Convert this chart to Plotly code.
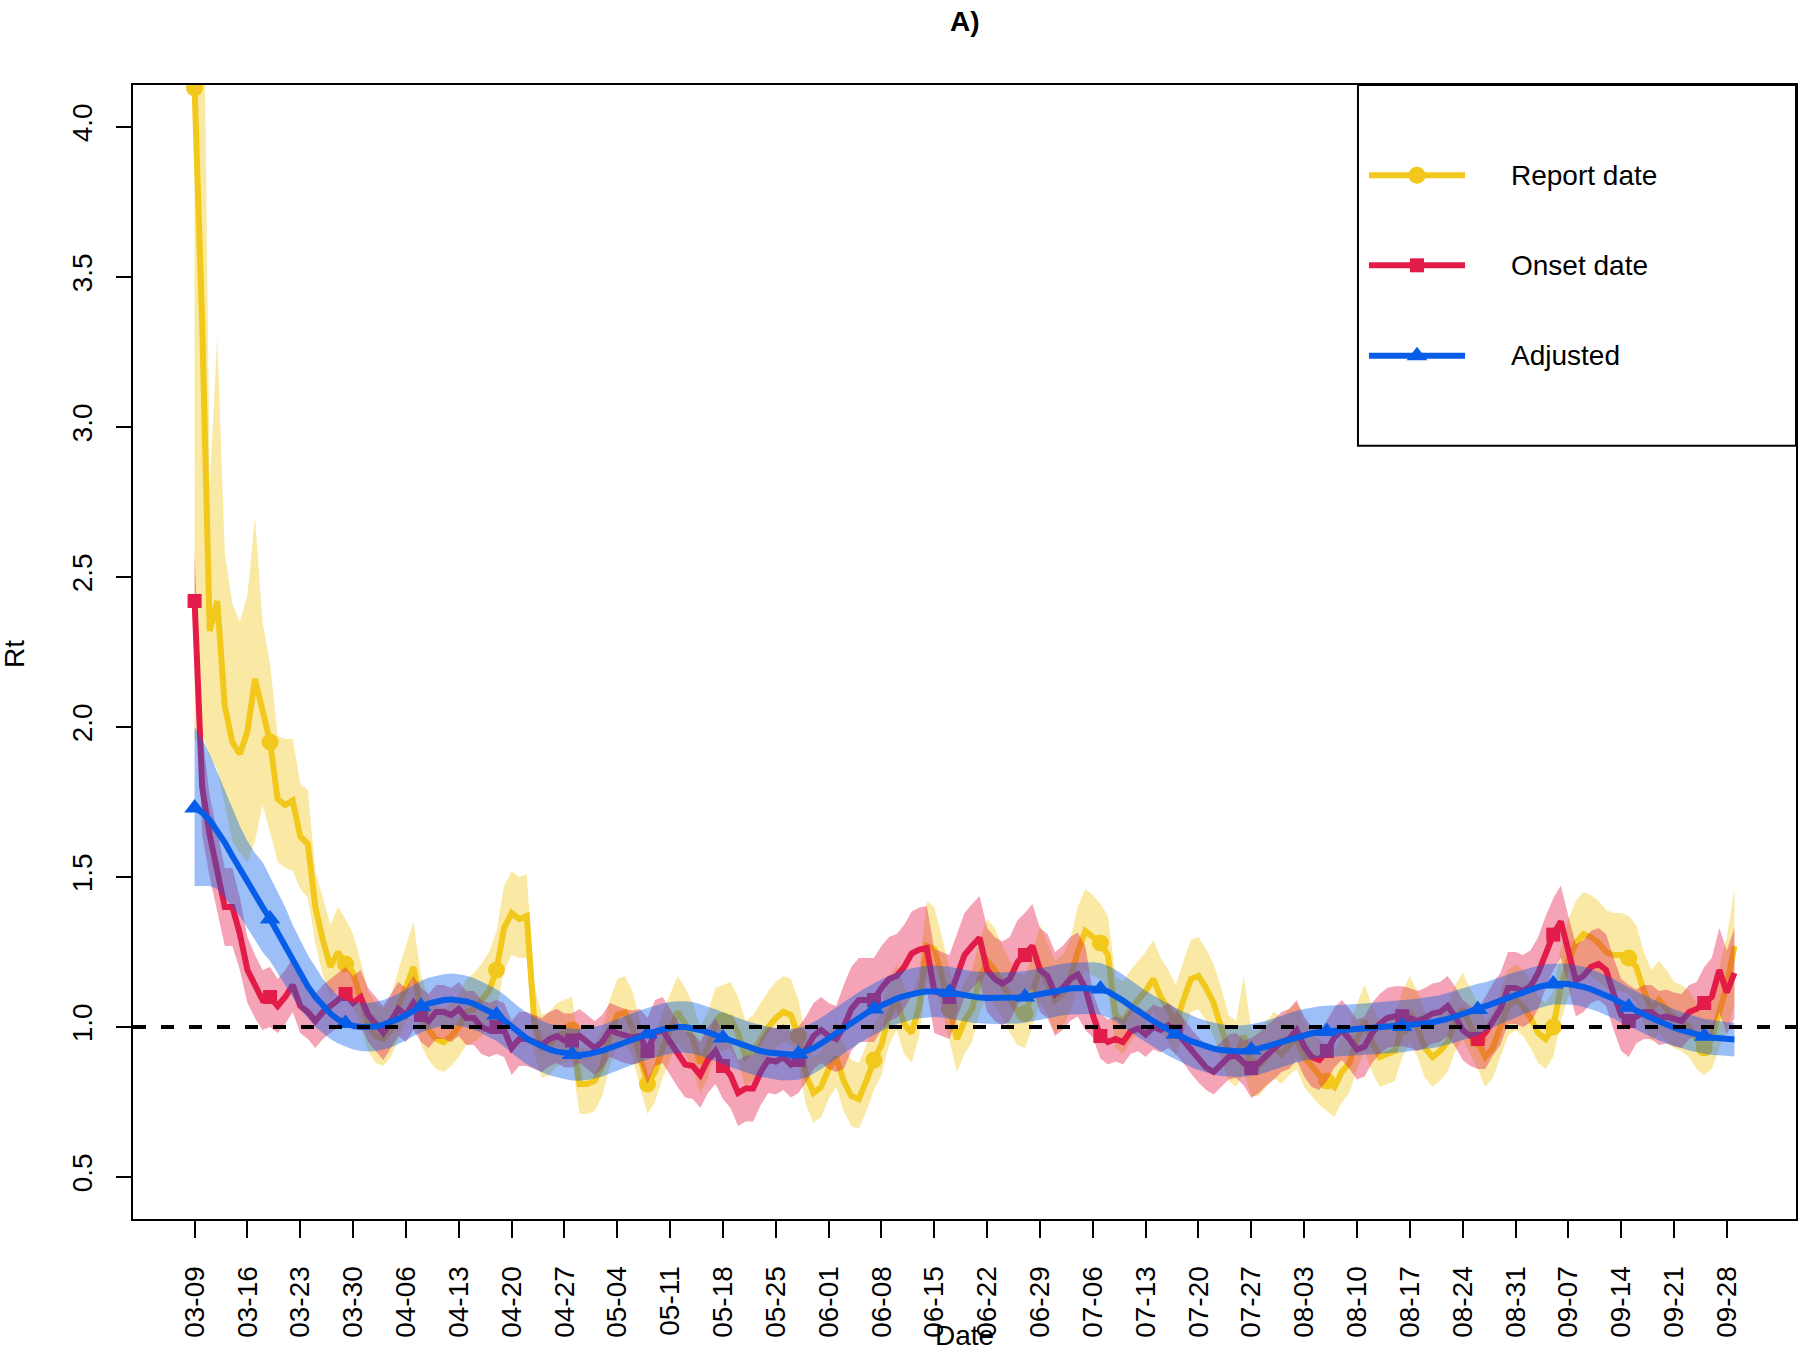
import pandas as pd
import plotly.graph_objects as go

# ---------------- data ----------------
start_date = "2020-03-09"
n_days = 205
dates = pd.date_range(start_date, periods=n_days, freq="D")

report = [4.13, 3.35, 2.32, 2.42, 2.07, 1.95, 1.91, 1.985, 2.16, 2.06,
          1.95, 1.76, 1.74, 1.755, 1.635, 1.61, 1.40, 1.29, 1.20, 1.25,
          1.21, 1.18, 1.10, 1.01, 0.97, 0.96, 0.99, 1.07, 1.13, 1.20,
          1.05, 0.99, 0.96, 0.95, 0.97, 1.00, 1.05, 1.06, 1.09, 1.12,
          1.19, 1.33, 1.38, 1.36, 1.37, 1.02, 0.93, 0.94, 0.97, 0.98,
          0.99, 0.81, 0.81, 0.82, 0.87, 0.97, 1.04, 1.05, 1.00, 0.90,
          0.81, 0.85, 0.93, 0.99, 1.05, 1.01, 0.96, 0.88, 0.93, 1.01,
          1.02, 1.03, 0.98, 0.90, 0.92, 0.96, 1.00, 1.03, 1.05, 1.04,
          0.97, 0.84, 0.78, 0.80, 0.86, 0.90, 0.82, 0.77, 0.76, 0.82,
          0.89, 0.94, 1.04, 1.09, 1.01, 0.98, 1.07, 1.27, 1.26, 1.17,
          1.06, 0.96, 1.02, 1.06, 1.16, 1.22, 1.19, 1.14, 1.09, 1.05,
          1.045, 1.11, 1.20, 1.15, 1.09, 1.11, 1.16, 1.25, 1.32, 1.30,
          1.28, 1.24, 1.04, 1.02, 1.06, 1.09, 1.12, 1.16, 1.10, 1.06,
          1.01, 1.09, 1.16, 1.17, 1.13, 1.08, 1.00, 0.92, 0.90, 0.97,
          0.87, 0.87, 0.90, 0.93, 0.91, 0.94, 0.96, 0.90, 0.87, 0.84,
          0.82, 0.80, 0.85, 0.88, 0.96, 1.02, 0.95, 0.90, 0.91, 0.92,
          1.00, 1.05, 1.00, 0.93, 0.90, 0.92, 0.95, 1.02, 1.06, 1.01,
          0.96, 0.90, 0.93, 1.00, 1.07, 1.09, 1.07, 1.03, 0.98, 0.96,
          1.00, 1.13, 1.22, 1.28, 1.31, 1.30, 1.28, 1.25, 1.24, 1.24,
          1.23, 1.20, 1.12, 1.06, 1.09, 1.06, 1.03, 1.02, 1.00, 0.96,
          0.93, 0.96, 1.05, 1.14, 1.27]

report_lo = [1.95, 1.98, 1.90, 1.86, 1.74, 1.62, 1.58, 1.55, 1.62, 1.74,
             1.65, 1.55, 1.53, 1.52, 1.46, 1.43, 1.28, 1.17, 1.10, 1.13,
             1.10, 1.07, 1.00, 0.92, 0.88, 0.87, 0.90, 0.96, 1.02, 1.07,
             0.94, 0.89, 0.86, 0.85, 0.87, 0.90, 0.94, 0.95, 0.97, 1.00,
             1.06, 1.19, 1.24, 1.23, 1.23, 0.91, 0.83, 0.84, 0.87, 0.88,
             0.89, 0.71, 0.71, 0.72, 0.77, 0.87, 0.94, 0.95, 0.90, 0.80,
             0.71, 0.75, 0.83, 0.89, 0.95, 0.91, 0.86, 0.78, 0.83, 0.91,
             0.92, 0.93, 0.88, 0.80, 0.82, 0.86, 0.90, 0.93, 0.95, 0.94,
             0.87, 0.74, 0.68, 0.70, 0.76, 0.80, 0.72, 0.67, 0.66, 0.72,
             0.79, 0.84, 0.94, 0.99, 0.91, 0.88, 0.97, 1.15, 1.14, 1.06,
             0.95, 0.85, 0.91, 0.95, 1.05, 1.10, 1.07, 1.03, 0.98, 0.94,
             0.93, 1.00, 1.08, 1.04, 0.98, 1.00, 1.05, 1.13, 1.19, 1.17,
             1.16, 1.12, 0.93, 0.91, 0.95, 0.98, 1.01, 1.05, 0.99, 0.95,
             0.90, 0.98, 1.05, 1.06, 1.02, 0.97, 0.89, 0.82, 0.80, 0.85,
             0.77, 0.77, 0.80, 0.83, 0.81, 0.84, 0.86, 0.80, 0.77, 0.74,
             0.72, 0.70, 0.75, 0.78, 0.86, 0.92, 0.85, 0.80, 0.81, 0.82,
             0.90, 0.95, 0.90, 0.83, 0.80, 0.82, 0.85, 0.92, 0.96, 0.91,
             0.86, 0.80, 0.83, 0.90, 0.97, 0.99, 0.97, 0.93, 0.88, 0.86,
             0.90, 1.02, 1.10, 1.15, 1.18, 1.17, 1.15, 1.13, 1.12, 1.12,
             1.11, 1.08, 1.01, 0.95, 0.98, 0.95, 0.93, 0.92, 0.90, 0.86,
             0.84, 0.86, 0.93, 0.99, 1.07]

report_hi = [6.00, 5.00, 2.80, 3.30, 2.58, 2.41, 2.35, 2.44, 2.70, 2.35,
             2.21, 1.97, 1.96, 1.96, 1.81, 1.79, 1.52, 1.43, 1.34, 1.40,
             1.36, 1.31, 1.22, 1.12, 1.08, 1.06, 1.10, 1.19, 1.27, 1.35,
             1.17, 1.10, 1.07, 1.06, 1.08, 1.11, 1.16, 1.18, 1.21, 1.25,
             1.32, 1.47, 1.52, 1.50, 1.51, 1.14, 1.04, 1.05, 1.08, 1.09,
             1.10, 0.93, 0.93, 0.94, 0.99, 1.09, 1.16, 1.17, 1.12, 1.02,
             0.93, 0.97, 1.05, 1.11, 1.17, 1.13, 1.08, 1.00, 1.05, 1.13,
             1.14, 1.15, 1.10, 1.02, 1.04, 1.08, 1.12, 1.15, 1.17, 1.16,
             1.09, 0.96, 0.90, 0.92, 0.98, 1.02, 0.94, 0.89, 0.88, 0.94,
             1.01, 1.06, 1.16, 1.21, 1.13, 1.10, 1.19, 1.42, 1.40, 1.30,
             1.19, 1.09, 1.15, 1.19, 1.29, 1.36, 1.33, 1.27, 1.22, 1.18,
             1.17, 1.24, 1.34, 1.28, 1.22, 1.24, 1.29, 1.40, 1.46, 1.44,
             1.41, 1.37, 1.17, 1.15, 1.19, 1.22, 1.25, 1.29, 1.23, 1.19,
             1.14, 1.22, 1.29, 1.30, 1.26, 1.21, 1.13, 1.04, 1.02, 1.17,
             0.99, 0.99, 1.02, 1.05, 1.03, 1.06, 1.08, 1.02, 0.99, 0.96,
             0.94, 0.92, 0.97, 1.00, 1.08, 1.14, 1.07, 1.02, 1.03, 1.04,
             1.12, 1.17, 1.12, 1.05, 1.02, 1.04, 1.07, 1.14, 1.18, 1.13,
             1.08, 1.02, 1.05, 1.12, 1.19, 1.21, 1.19, 1.15, 1.10, 1.08,
             1.12, 1.26, 1.36, 1.42, 1.45, 1.44, 1.42, 1.39, 1.38, 1.38,
             1.37, 1.34, 1.25, 1.19, 1.22, 1.19, 1.15, 1.14, 1.12, 1.08,
             1.05, 1.08, 1.20, 1.30, 1.46]

onset = [2.42, 1.80, 1.64, 1.52, 1.40, 1.40, 1.31, 1.19, 1.136, 1.09,
         1.10, 1.07, 1.10, 1.14, 1.07, 1.05, 1.02, 1.05, 1.07, 1.09,
         1.11, 1.08, 1.10, 1.04, 1.01, 0.98, 1.02, 1.06, 1.04, 1.08,
         1.04, 1.02, 1.05, 1.05, 1.04, 1.06, 1.03, 1.03, 1.00, 0.99,
         1.00, 0.99, 0.93, 0.96, 0.96, 0.95, 0.94, 0.96, 0.97, 0.955,
         0.955, 0.97, 0.95, 0.93, 0.95, 0.99, 0.98, 0.97, 0.965, 0.97,
         0.92, 0.98, 0.99, 0.95, 0.91, 0.875, 0.87, 0.84, 0.89, 0.92,
         0.87, 0.84, 0.78, 0.795, 0.795, 0.85, 0.89, 0.885, 0.90, 0.875,
         0.89, 0.925, 0.97, 0.99, 0.97, 0.96, 1.00, 1.06, 1.09, 1.09,
         1.09, 1.13, 1.16, 1.17, 1.20, 1.245, 1.258, 1.263, 1.12, 1.11,
         1.10, 1.17, 1.24, 1.27, 1.297, 1.19, 1.16, 1.145, 1.16, 1.215,
         1.24, 1.27, 1.19, 1.17, 1.11, 1.13, 1.16, 1.175, 1.13, 1.04,
         0.97, 0.95, 0.96, 0.95, 0.985, 0.995, 0.975, 1.00, 0.99, 1.005,
         0.985, 0.955, 0.92, 0.89, 0.865, 0.85, 0.875, 0.90, 0.905, 0.88,
         0.863, 0.88, 0.905, 0.925, 0.95, 0.96, 0.99, 0.935, 0.90, 0.89,
         0.92, 0.965, 0.99, 0.96, 0.925, 0.935, 0.98, 1.01, 1.03, 1.036,
         1.036, 1.03, 1.02, 1.03, 1.045, 1.05, 1.07, 1.035, 0.99, 0.97,
         0.96, 0.98, 1.025, 1.06, 1.13, 1.13, 1.12, 1.136, 1.18, 1.25,
         1.308, 1.352, 1.25, 1.155, 1.17, 1.20, 1.21, 1.19, 1.11, 1.04,
         1.02, 1.035, 1.05, 1.05, 1.03, 1.035, 1.025, 1.02, 1.05, 1.06,
         1.08, 1.10, 1.19, 1.115, 1.18]

onset_lo = [2.30, 1.64, 1.50, 1.39, 1.27, 1.27, 1.19, 1.08, 1.03, 0.99,
            1.00, 0.98, 1.01, 1.05, 0.98, 0.96, 0.93, 0.96, 0.98, 1.00,
            1.02, 0.99, 1.01, 0.95, 0.92, 0.89, 0.93, 0.97, 0.95, 0.99,
            0.95, 0.93, 0.96, 0.96, 0.95, 0.97, 0.94, 0.94, 0.91, 0.90,
            0.91, 0.90, 0.84, 0.87, 0.87, 0.86, 0.85, 0.87, 0.88, 0.865,
            0.865, 0.88, 0.86, 0.84, 0.86, 0.90, 0.89, 0.88, 0.875, 0.88,
            0.81, 0.87, 0.88, 0.84, 0.80, 0.765, 0.76, 0.73, 0.78, 0.81,
            0.76, 0.73, 0.67, 0.685, 0.685, 0.74, 0.78, 0.775, 0.79, 0.765,
            0.78, 0.815, 0.86, 0.88, 0.86, 0.85, 0.86, 0.92, 0.95, 0.95,
            0.95, 0.99, 1.02, 1.03, 1.06, 1.105, 1.118, 1.123, 0.98, 0.97,
            0.96, 1.03, 1.10, 1.13, 1.157, 1.05, 1.02, 1.005, 1.02, 1.075,
            1.10, 1.13, 1.05, 1.03, 0.97, 0.99, 1.02, 1.035, 0.99, 0.965,
            0.895, 0.875, 0.885, 0.875, 0.91, 0.92, 0.90, 0.925, 0.915, 0.93,
            0.91, 0.88, 0.845, 0.815, 0.79, 0.775, 0.80, 0.825, 0.83, 0.805,
            0.763, 0.78, 0.805, 0.825, 0.85, 0.86, 0.89, 0.835, 0.80, 0.79,
            0.82, 0.865, 0.89, 0.86, 0.825, 0.835, 0.88, 0.91, 0.93, 0.936,
            0.936, 0.93, 0.92, 0.93, 0.945, 0.95, 0.97, 0.935, 0.89, 0.87,
            0.86, 0.86, 0.905, 0.94, 1.01, 1.01, 1.00, 1.016, 1.06, 1.13,
            1.188, 1.232, 1.13, 1.035, 1.05, 1.08, 1.09, 1.07, 0.99, 0.92,
            0.90, 0.945, 0.96, 0.96, 0.94, 0.945, 0.935, 0.93, 0.96, 0.97,
            0.96, 0.97, 1.05, 0.975, 1.03]

onset_hi = [2.58, 1.98, 1.77, 1.65, 1.53, 1.53, 1.43, 1.30, 1.24, 1.19,
            1.20, 1.16, 1.19, 1.23, 1.16, 1.14, 1.11, 1.14, 1.16, 1.18,
            1.20, 1.17, 1.19, 1.13, 1.10, 1.07, 1.11, 1.15, 1.13, 1.17,
            1.13, 1.11, 1.14, 1.14, 1.13, 1.15, 1.12, 1.12, 1.09, 1.08,
            1.09, 1.08, 1.02, 1.05, 1.05, 1.04, 1.03, 1.05, 1.06, 1.045,
            1.045, 1.06, 1.04, 1.02, 1.04, 1.08, 1.07, 1.06, 1.055, 1.06,
            1.03, 1.09, 1.10, 1.06, 1.02, 0.985, 0.98, 0.95, 1.00, 1.03,
            0.98, 0.95, 0.89, 0.905, 0.905, 0.96, 1.00, 0.995, 1.01, 0.985,
            1.00, 1.035, 1.08, 1.10, 1.08, 1.07, 1.14, 1.20, 1.23, 1.23,
            1.23, 1.27, 1.30, 1.31, 1.34, 1.385, 1.398, 1.403, 1.26, 1.25,
            1.24, 1.31, 1.38, 1.41, 1.437, 1.33, 1.30, 1.285, 1.30, 1.355,
            1.38, 1.41, 1.33, 1.31, 1.25, 1.27, 1.30, 1.315, 1.27, 1.115,
            1.045, 1.025, 1.035, 1.025, 1.06, 1.07, 1.05, 1.075, 1.065, 1.08,
            1.06, 1.03, 0.995, 0.965, 0.94, 0.925, 0.95, 0.975, 0.98, 0.955,
            0.963, 0.98, 1.005, 1.025, 1.05, 1.06, 1.09, 1.035, 1.00, 0.99,
            1.02, 1.065, 1.09, 1.06, 1.025, 1.035, 1.08, 1.11, 1.13, 1.136,
            1.136, 1.13, 1.12, 1.13, 1.145, 1.15, 1.17, 1.135, 1.09, 1.07,
            1.06, 1.10, 1.145, 1.18, 1.25, 1.25, 1.24, 1.256, 1.30, 1.37,
            1.428, 1.472, 1.37, 1.275, 1.29, 1.32, 1.33, 1.31, 1.23, 1.16,
            1.14, 1.125, 1.14, 1.14, 1.12, 1.125, 1.115, 1.11, 1.14, 1.15,
            1.20, 1.23, 1.33, 1.255, 1.33]

adjusted = [1.73, 1.715, 1.69, 1.655, 1.615, 1.57, 1.525, 1.48, 1.44, 1.40,
            1.36, 1.315, 1.27, 1.22, 1.175, 1.135, 1.10, 1.07, 1.045, 1.025,
            1.012, 1.004, 1.0, 0.999, 1.002, 1.008, 1.016, 1.027, 1.04, 1.055,
            1.068, 1.078, 1.085, 1.09, 1.092, 1.09, 1.085, 1.077, 1.066, 1.052,
            1.04, 1.022, 1.0, 0.98, 0.962, 0.948, 0.935, 0.925, 0.918, 0.913,
            0.908, 0.907, 0.909, 0.914, 0.921, 0.93, 0.94, 0.95, 0.96, 0.97,
            0.977, 0.985, 0.992, 0.997, 1.0, 1.0, 0.997, 0.99, 0.982, 0.973,
            0.963, 0.953, 0.943, 0.935, 0.927, 0.92, 0.915, 0.911, 0.908, 0.908,
            0.91, 0.918, 0.93, 0.945, 0.962, 0.98, 0.998, 1.015, 1.031, 1.046,
            1.06, 1.073, 1.085, 1.095, 1.103, 1.11, 1.115, 1.118, 1.119, 1.118,
            1.115, 1.11, 1.105, 1.10, 1.098, 1.097, 1.096, 1.096, 1.097, 1.098,
            1.10, 1.105, 1.11, 1.116, 1.12, 1.125, 1.128, 1.13, 1.13, 1.13,
            1.127, 1.118, 1.105, 1.088, 1.07, 1.052, 1.035, 1.02, 1.005, 0.99,
            0.977, 0.965, 0.953, 0.943, 0.935, 0.928, 0.923, 0.92, 0.919, 0.92,
            0.923, 0.928, 0.935, 0.943, 0.952, 0.96, 0.968, 0.974, 0.979, 0.983,
            0.985, 0.987, 0.989, 0.99, 0.991, 0.992, 0.994, 0.996, 0.998, 1.0,
            1.002, 1.005, 1.008, 1.012, 1.016, 1.02, 1.027, 1.035, 1.043, 1.05,
            1.058, 1.068, 1.078, 1.088, 1.098, 1.107, 1.116, 1.125, 1.133, 1.139,
            1.143, 1.144, 1.143, 1.14, 1.134, 1.126, 1.117, 1.106, 1.094, 1.08,
            1.066, 1.054, 1.042, 1.03, 1.018, 1.008, 0.998, 0.99, 0.982, 0.975,
            0.969, 0.965, 0.962, 0.96, 0.958]

adjusted_lo = [1.47, 1.47, 1.47, 1.46, 1.43, 1.40, 1.37, 1.33, 1.29, 1.25,
               1.22, 1.18, 1.14, 1.10, 1.06, 1.03, 1.00, 0.98, 0.96, 0.945,
               0.935, 0.925, 0.92, 0.918, 0.92, 0.925, 0.932, 0.943, 0.955, 0.97,
               0.982, 0.992, 0.999, 1.004, 1.006, 1.004, 0.999, 0.991, 0.98, 0.966,
               0.954, 0.936, 0.914, 0.894, 0.876, 0.862, 0.849, 0.839, 0.832, 0.827,
               0.822, 0.821, 0.823, 0.828, 0.835, 0.844, 0.854, 0.864, 0.874, 0.884,
               0.891, 0.899, 0.906, 0.911, 0.914, 0.914, 0.911, 0.904, 0.896, 0.887,
               0.877, 0.867, 0.857, 0.849, 0.841, 0.834, 0.829, 0.825, 0.822, 0.822,
               0.824, 0.832, 0.844, 0.859, 0.876, 0.894, 0.912, 0.929, 0.945, 0.960,
               0.974, 0.987, 0.999, 1.009, 1.017, 1.024, 1.029, 1.032, 1.033, 1.032,
               1.029, 1.024, 1.019, 1.014, 1.012, 1.011, 1.010, 1.010, 1.011, 1.012,
               1.014, 1.019, 1.024, 1.030, 1.034, 1.039, 1.042, 1.044, 1.044, 1.044,
               1.041, 1.032, 1.019, 1.002, 0.984, 0.966, 0.949, 0.934, 0.919, 0.904,
               0.891, 0.879, 0.867, 0.857, 0.849, 0.842, 0.837, 0.834, 0.833, 0.834,
               0.837, 0.842, 0.849, 0.857, 0.866, 0.874, 0.882, 0.888, 0.893, 0.897,
               0.899, 0.901, 0.903, 0.904, 0.905, 0.906, 0.908, 0.910, 0.912, 0.914,
               0.916, 0.919, 0.922, 0.926, 0.930, 0.934, 0.941, 0.949, 0.957, 0.964,
               0.972, 0.987, 0.998, 1.010, 1.021, 1.031, 1.042, 1.052, 1.062, 1.069,
               1.075, 1.076, 1.075, 1.073, 1.067, 1.059, 1.051, 1.040, 1.028, 1.015,
               1.001, 0.990, 0.978, 0.967, 0.955, 0.946, 0.937, 0.930, 0.922, 0.916,
               0.911, 0.907, 0.905, 0.904, 0.902]

adjusted_hi = [2.00, 1.96, 1.91, 1.85, 1.79, 1.73, 1.67, 1.62, 1.58, 1.55,
               1.50, 1.45, 1.40, 1.34, 1.29, 1.24, 1.20, 1.16, 1.13, 1.105,
               1.09, 1.083, 1.08, 1.08, 1.084, 1.09, 1.10, 1.111, 1.125, 1.14,
               1.154, 1.164, 1.171, 1.176, 1.178, 1.176, 1.171, 1.163, 1.152, 1.138,
               1.126, 1.108, 1.086, 1.066, 1.048, 1.034, 1.021, 1.011, 1.004, 0.999,
               0.994, 0.993, 0.995, 1.000, 1.007, 1.016, 1.026, 1.036, 1.046, 1.056,
               1.063, 1.071, 1.078, 1.083, 1.086, 1.086, 1.083, 1.076, 1.068, 1.059,
               1.049, 1.039, 1.029, 1.021, 1.013, 1.006, 1.001, 0.997, 0.994, 0.994,
               0.996, 1.004, 1.016, 1.031, 1.048, 1.066, 1.084, 1.101, 1.117, 1.132,
               1.146, 1.159, 1.171, 1.181, 1.189, 1.196, 1.201, 1.204, 1.205, 1.204,
               1.201, 1.196, 1.191, 1.186, 1.184, 1.183, 1.182, 1.182, 1.183, 1.184,
               1.186, 1.191, 1.196, 1.202, 1.206, 1.211, 1.214, 1.216, 1.216, 1.216,
               1.213, 1.204, 1.191, 1.174, 1.156, 1.138, 1.121, 1.106, 1.091, 1.076,
               1.063, 1.051, 1.039, 1.029, 1.021, 1.014, 1.009, 1.006, 1.005, 1.006,
               1.009, 1.014, 1.021, 1.029, 1.038, 1.046, 1.054, 1.060, 1.065, 1.069,
               1.071, 1.073, 1.075, 1.076, 1.077, 1.078, 1.080, 1.082, 1.084, 1.086,
               1.088, 1.091, 1.094, 1.098, 1.102, 1.106, 1.113, 1.121, 1.129, 1.136,
               1.144, 1.149, 1.158, 1.166, 1.175, 1.183, 1.190, 1.198, 1.204, 1.209,
               1.211, 1.212, 1.211, 1.207, 1.201, 1.193, 1.183, 1.172, 1.160, 1.145,
               1.131, 1.118, 1.106, 1.093, 1.081, 1.070, 1.059, 1.050, 1.042, 1.034,
               1.027, 1.023, 1.019, 1.016, 1.014]

tick_labels = ["03-09", "03-16", "03-23", "03-30", "04-06", "04-13", "04-20",
               "04-27", "05-04", "05-11", "05-18", "05-25", "06-01", "06-08",
               "06-15", "06-22", "06-29", "07-06", "07-13", "07-20", "07-27",
               "08-03", "08-10", "08-17", "08-24", "08-31", "09-07", "09-14",
               "09-21", "09-28"]
y_ticks = [0.5, 1.0, 1.5, 2.0, 2.5, 3.0, 3.5, 4.0]
y_limits = [0.5, 4.0]
threshold = 1.0
series_names = ["Report date", "Onset date", "Adjusted"]
marker_every = 10

# ---------------- styling ----------------
FONT = "Liberation Sans, Arial, Helvetica, sans-serif"
FS = 28
col_line = ["rgb(241,200,27)", "rgb(227,27,72)", "rgb(6,94,232)"]
col_band = ["rgba(241,200,27,0.4)", "rgba(227,27,72,0.4)", "rgba(6,94,232,0.4)"]
symbols = ["circle", "square", "triangle-up"]
msizes = [17, 14, 18]
LW = 6

tick_dates = pd.date_range(start_date, periods=len(tick_labels), freq="7D")

# axis ranges with R-style 4% padding
span_days = n_days - 1
pad = 0.04 * span_days
x0 = dates[0] - pd.Timedelta(days=pad)
x1 = dates[-1] + pd.Timedelta(days=pad)
ypad = 0.04 * (y_limits[1] - y_limits[0])

fig = go.Figure()

groups = [(report, report_lo, report_hi), (onset, onset_lo, onset_hi),
          (adjusted, adjusted_lo, adjusted_hi)]
xs = list(dates)
for i, (mid, lo, hi) in enumerate(groups):
    fig.add_trace(go.Scatter(
        x=xs + xs[::-1], y=list(hi) + list(lo)[::-1], fill="toself",
        fillcolor=col_band[i], line=dict(width=0), mode="lines",
        hoverinfo="skip", showlegend=False))
    fig.add_trace(go.Scatter(
        x=xs, y=mid, mode="lines", line=dict(color=col_line[i], width=LW),
        name=series_names[i], showlegend=False))
    fig.add_trace(go.Scatter(
        x=xs[::marker_every], y=mid[::marker_every], mode="markers",
        marker=dict(symbol=symbols[i], size=msizes[i], color=col_line[i],
                    line=dict(width=0)),
        showlegend=False, hoverinfo="skip"))

# reference line at R = 1
fig.add_hline(y=threshold, line=dict(color="black", width=4, dash="13px,15px"),
              layer="above")

# ---------------- manual legend (R style) ----------------
leg_x0, leg_y0 = 0.7366, 0.6819
fig.add_shape(type="rect", xref="paper", yref="paper", x0=leg_x0, x1=1.0,
              y0=leg_y0, y1=1.0, line=dict(color="black", width=2),
              fillcolor="rgba(0,0,0,0)", layer="above")
row_y = [0.9204, 0.8410, 0.7613]
key_x = [0.7432, 0.7721, 0.8010]
for i in range(3):
    fig.add_trace(go.Scatter(
        x=key_x, y=[row_y[i]] * 3, xaxis="x2", yaxis="y2", mode="lines",
        line=dict(color=col_line[i], width=LW), showlegend=False,
        hoverinfo="skip"))
    fig.add_trace(go.Scatter(
        x=[key_x[1]], y=[row_y[i]], xaxis="x2", yaxis="y2", mode="markers",
        marker=dict(symbol=symbols[i], size=msizes[i], color=col_line[i]),
        showlegend=False, hoverinfo="skip"))
    fig.add_annotation(x=0.8274, y=row_y[i], xref="paper", yref="paper",
                       text=series_names[i], showarrow=False, xanchor="left",
                       yanchor="middle", font=dict(family=FONT, size=FS, color="black"))

# title & axis titles
fig.add_annotation(x=0.5, y=1.0564, xref="paper", yref="paper", text="<b>A)</b>",
                   showarrow=False, xanchor="center", yanchor="middle",
                   font=dict(family=FONT, size=FS, color="black"))
fig.add_annotation(x=-0.0716, y=0.4982, xref="paper", yref="paper", text="Rt",
                   textangle=-90, showarrow=False, xanchor="center", yanchor="middle",
                   font=dict(family=FONT, size=FS, color="black"))
fig.add_annotation(x=0.5, y=-0.1025, xref="paper", yref="paper", text="Date",
                   showarrow=False, xanchor="center", yanchor="middle",
                   font=dict(family=FONT, size=FS, color="black"))

fig.update_layout(
    width=1800, height=1353,
    margin=dict(l=133, r=4, t=85, b=134, pad=0),
    paper_bgcolor="white", plot_bgcolor="white",
    template="none",
    font=dict(family=FONT, size=FS, color="black"),
    showlegend=False,
    xaxis=dict(type="date", range=[x0, x1], tickvals=list(tick_dates),
               ticktext=tick_labels, tickangle=-90, ticks="outside", ticklen=17,
               tickwidth=2, tickcolor="black", showline=True, linewidth=2,
               linecolor="black", mirror=True, showgrid=False, zeroline=False,
               ticklabelstandoff=17, tickfont=dict(family=FONT, size=FS)),
    yaxis=dict(range=[y_limits[0] - ypad, y_limits[1] + ypad], tickvals=y_ticks,
               ticktext=[f"{v:.1f}" for v in y_ticks], tickangle=-90,
               ticks="outside", ticklen=15, tickwidth=2, tickcolor="black",
               showline=True, linewidth=2, linecolor="black", mirror=True,
               showgrid=False, zeroline=False, ticklabelstandoff=13,
               tickfont=dict(family=FONT, size=FS)),
    xaxis2=dict(domain=[0, 1], range=[0, 1], visible=False, anchor="y2",
                overlaying="x"),
    yaxis2=dict(domain=[0, 1], range=[0, 1], visible=False, anchor="x2",
                overlaying="y"),
)

fig.write_html("out.html", include_plotlyjs=True, full_html=True,
               config={"displayModeBar": False},
               post_script="document.body.style.margin='0';document.body.style.overflow='hidden';")
